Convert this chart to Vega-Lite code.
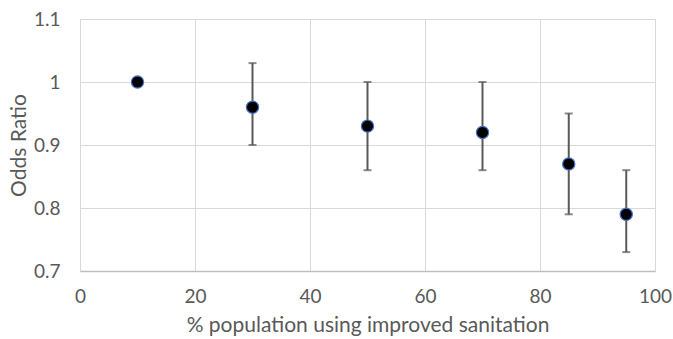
{
  "$schema": "https://vega.github.io/schema/vega-lite/v6.json",
  "autosize": {"type": "none"},
  "width": 575,
  "height": 252,
  "padding": {"left": 80, "top": 19, "right": 18, "bottom": 68},
  "background": "white",
  "config": {
    "view": {"stroke": null},
    "font": "Lato",
    "axis": {
      "labelColor": "#595959",
      "titleColor": "#595959",
      "labelFont": "Lato",
      "titleFont": "Lato",
      "labelFontSize": 19,
      "titleFontSize": 21,
      "titleFontWeight": "normal",
      "gridColor": "#d9d9d9",
      "gridWidth": 1,
      "ticks": false,
      "labelFlush": false
    }
  },
  "data": {
    "values": [
      {"pct": 10, "or": 1.0, "lo": null, "hi": null},
      {"pct": 30, "or": 0.96, "lo": 0.90, "hi": 1.03},
      {"pct": 50, "or": 0.93, "lo": 0.86, "hi": 1.0},
      {"pct": 70, "or": 0.92, "lo": 0.86, "hi": 1.0},
      {"pct": 85, "or": 0.87, "lo": 0.79, "hi": 0.95},
      {"pct": 95, "or": 0.79, "lo": 0.73, "hi": 0.86}
    ]
  },
  "encoding": {
    "x": {
      "field": "pct",
      "type": "quantitative",
      "scale": {"domain": [0, 100], "nice": false},
      "axis": {
        "title": "% population using improved sanitation",
        "values": [0, 20, 40, 60, 80, 100],
        "domainColor": "#bfbfbf",
        "domainWidth": 1.5,
        "labelPadding": 16,
        "titlePadding": 8
      }
    }
  },
  "layer": [
    {
      "transform": [{"filter": "datum.lo != null"}],
      "mark": {"type": "rule", "color": "#595959", "strokeWidth": 2},
      "encoding": {
        "y": {
          "field": "lo",
          "type": "quantitative",
          "scale": {"domain": [0.7, 1.1], "nice": false, "zero": false},
          "axis": {
            "title": "Odds Ratio",
            "values": [0.7, 0.8, 0.9, 1.0, 1.1],
            "format": "~g",
            "domain": false,
            "labelPadding": 20,
            "titlePadding": 4
          }
        },
        "y2": {"field": "hi"}
      }
    },
    {
      "transform": [{"filter": "datum.lo != null"}],
      "mark": {"type": "tick", "orient": "horizontal", "color": "#595959", "size": 8, "thickness": 2},
      "encoding": {"y": {"field": "lo", "type": "quantitative"}}
    },
    {
      "transform": [{"filter": "datum.lo != null"}],
      "mark": {"type": "tick", "orient": "horizontal", "color": "#595959", "size": 8, "thickness": 2},
      "encoding": {"y": {"field": "hi", "type": "quantitative"}}
    },
    {
      "mark": {"type": "point", "filled": true, "fill": "black", "stroke": "#4472c4", "strokeWidth": 1.2, "size": 150, "opacity": 1},
      "encoding": {"y": {"field": "or", "type": "quantitative"}}
    }
  ]
}
